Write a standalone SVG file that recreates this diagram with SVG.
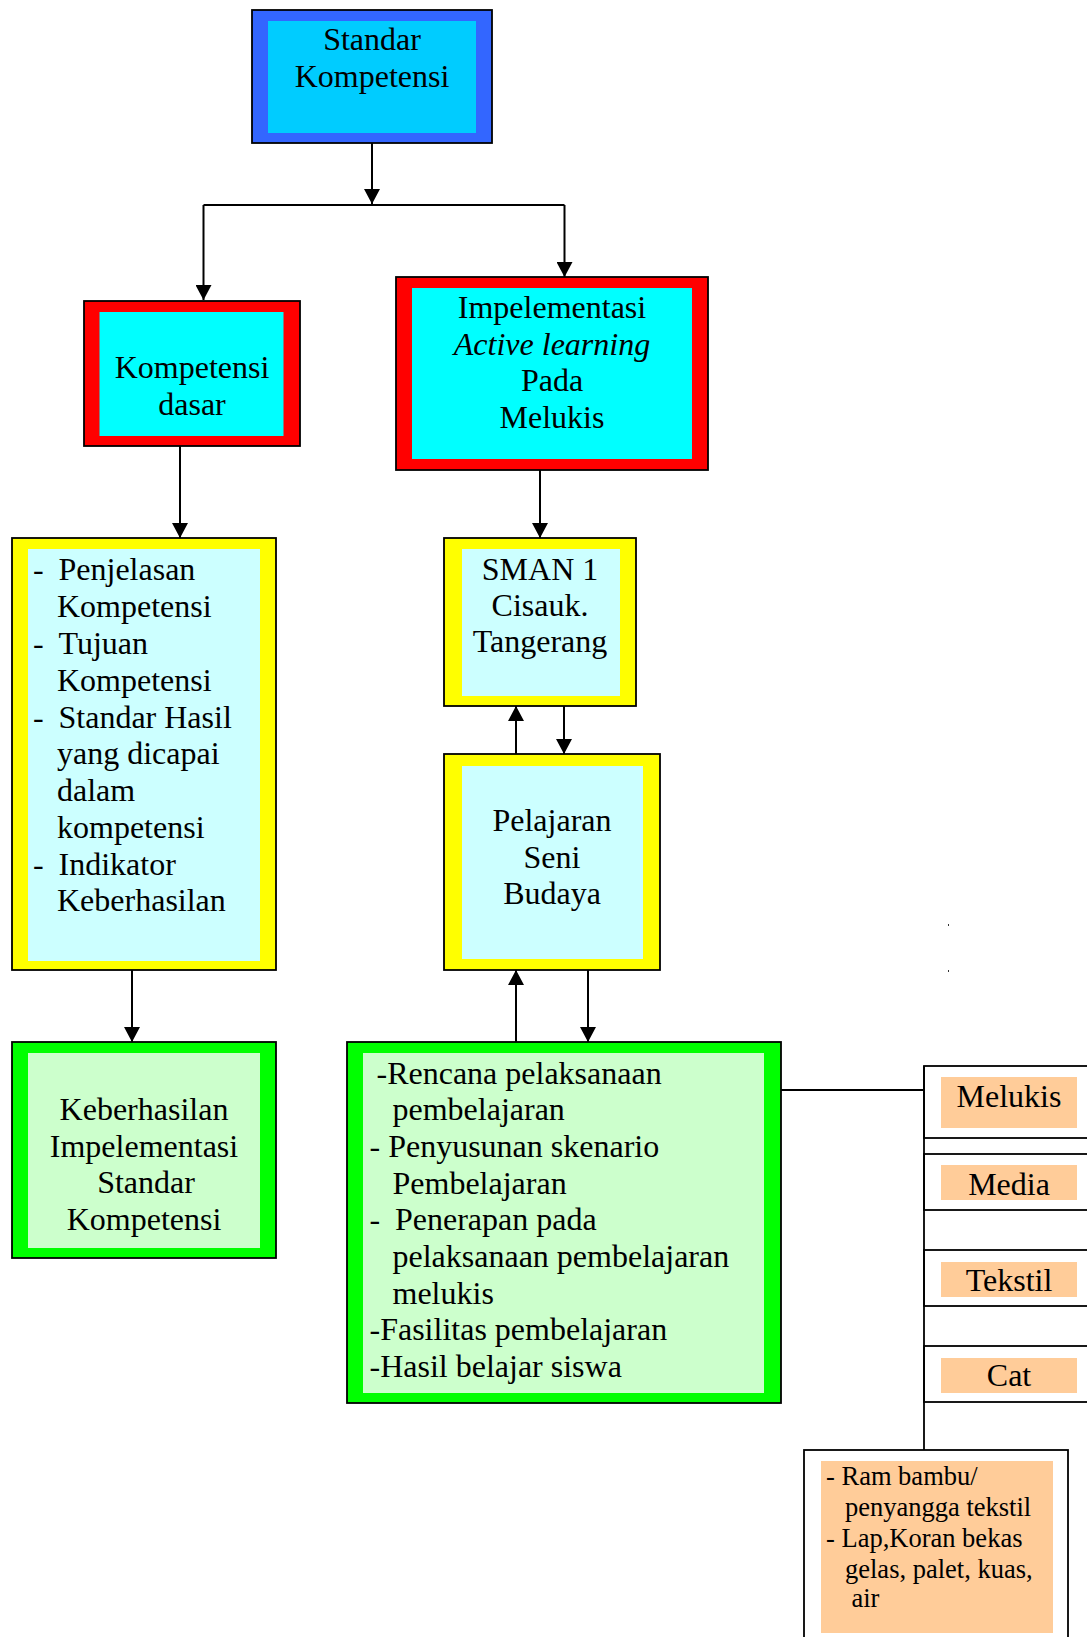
<svg xmlns="http://www.w3.org/2000/svg" width="1087" height="1637" viewBox="0 0 1087 1637">
<defs>
<marker id="arr" markerUnits="userSpaceOnUse" markerWidth="17" markerHeight="16" refX="15" refY="8" orient="auto">
<path d="M0,0 L15,8 L0,16 Z" fill="#000"/>
</marker>
<style>
.o{stroke:#000;stroke-width:1.8}
.t{font-family:"Liberation Serif","Times New Roman",serif;font-size:32px;fill:#000}
.c{text-anchor:middle}
.s{font-family:"Liberation Serif","Times New Roman",serif;font-size:26.5px;fill:#000}
.cn{fill:none;stroke:#000;stroke-width:2}
.ln{fill:none;stroke:#000;stroke-width:1.8}
</style>
</defs>
<rect width="1087" height="1637" fill="#fff"/>

<g id="standar-kompetensi">
<rect class="o" x="252" y="10" width="240" height="133" fill="#3366FF"/>
<rect x="268" y="21" width="208" height="112" fill="#00CCFF"/>
<text class="t c" x="372" y="50">Standar</text>
<text class="t c" x="372" y="87">Kompetensi</text>
</g>

<g id="kompetensi-dasar">
<rect class="o" x="84" y="301" width="216" height="145" fill="#FF0000"/>
<rect x="99.5" y="312" width="184" height="124" fill="#00FFFF"/>
<text class="t c" x="192" y="378">Kompetensi</text>
<text class="t c" x="192" y="415">dasar</text>
</g>

<g id="impelementasi">
<rect class="o" x="396" y="277" width="312" height="193" fill="#FF0000"/>
<rect x="412" y="288" width="280" height="171" fill="#00FFFF"/>
<text class="t c" x="552" y="318">Impelementasi</text>
<text class="t c" x="552" y="354.5" font-style="italic">Active learning</text>
<text class="t c" x="552" y="391">Pada</text>
<text class="t c" x="552" y="427.5">Melukis</text>
</g>

<g id="penjelasan">
<rect class="o" x="12" y="538" width="264" height="432" fill="#FFFF00"/>
<rect x="28" y="549" width="232" height="412" fill="#CCFFFF"/>
<text class="t" x="33" y="580">-</text><text class="t" x="58.5" y="580">Penjelasan</text>
<text class="t" x="57" y="617">Kompetensi</text>
<text class="t" x="33" y="654">-</text><text class="t" x="58.5" y="654">Tujuan</text>
<text class="t" x="57" y="690.5">Kompetensi</text>
<text class="t" x="33" y="727.5">-</text><text class="t" x="58.5" y="727.5">Standar Hasil</text>
<text class="t" x="57" y="764">yang dicapai</text>
<text class="t" x="57" y="801">dalam</text>
<text class="t" x="57" y="838">kompetensi</text>
<text class="t" x="33" y="874.5">-</text><text class="t" x="58.5" y="874.5">Indikator</text>
<text class="t" x="57" y="911">Keberhasilan</text>
</g>

<g id="sman">
<rect class="o" x="444" y="538" width="192" height="168" fill="#FFFF00"/>
<rect x="462" y="549" width="158" height="147" fill="#CCFFFF"/>
<text class="t c" x="540" y="579.5">SMAN 1</text>
<text class="t c" x="540" y="615.5">Cisauk.</text>
<text class="t c" x="540" y="652">Tangerang</text>
</g>

<g id="pelajaran">
<rect class="o" x="444" y="754" width="216" height="216" fill="#FFFF00"/>
<rect x="462" y="766" width="181" height="193" fill="#CCFFFF"/>
<text class="t c" x="552" y="831">Pelajaran</text>
<text class="t c" x="552" y="867.5">Seni</text>
<text class="t c" x="552" y="904">Budaya</text>
</g>

<g id="keberhasilan">
<rect class="o" x="12" y="1042" width="264" height="216" fill="#00FF00"/>
<rect x="28" y="1053" width="232" height="195" fill="#CCFFCC"/>
<text class="t c" x="144" y="1119.5">Keberhasilan</text>
<text class="t c" x="144" y="1156.5">Impelementasi</text>
<text class="t c" x="146" y="1193">Standar</text>
<text class="t c" x="144" y="1230">Kompetensi</text>
</g>

<g id="rencana">
<rect class="o" x="347" y="1042" width="434" height="361" fill="#00FF00"/>
<rect x="363" y="1053" width="401" height="340" fill="#CCFFCC"/>
<text class="t" x="376.5" y="1083.5">-Rencana pelaksanaan</text>
<text class="t" x="392.5" y="1120">pembelajaran</text>
<text class="t" x="369.5" y="1156.5">- Penyusunan skenario</text>
<text class="t" x="392.5" y="1193.5">Pembelajaran</text>
<text class="t" x="369.5" y="1230">-</text><text class="t" x="395" y="1230">Penerapan pada</text>
<text class="t" x="392.5" y="1266.5">pelaksanaan pembelajaran</text>
<text class="t" x="392.5" y="1303.5">melukis</text>
<text class="t" x="369.5" y="1340">-Fasilitas pembelajaran</text>
<text class="t" x="369.5" y="1376.5">-Hasil belajar siswa</text>
</g>

<g id="melukis">
<rect class="o" x="924" y="1066" width="200" height="72" fill="#fff"/>
<rect x="941" y="1077" width="136" height="51" fill="#FFCC99"/>
<text class="t c" x="1009" y="1107">Melukis</text>
</g>
<g id="media">
<rect class="o" x="924" y="1154" width="200" height="56" fill="#fff"/>
<rect x="941" y="1165" width="136" height="35" fill="#FFCC99"/>
<text class="t c" x="1009" y="1195">Media</text>
</g>
<g id="tekstil">
<rect class="o" x="924" y="1250" width="200" height="56" fill="#fff"/>
<rect x="941" y="1262" width="136" height="35" fill="#FFCC99"/>
<text class="t c" x="1009" y="1290.5">Tekstil</text>
</g>
<g id="cat">
<rect class="o" x="924" y="1346" width="200" height="56" fill="#fff"/>
<rect x="941" y="1358" width="136" height="35" fill="#FFCC99"/>
<text class="t c" x="1009" y="1386">Cat</text>
</g>

<g id="alat">
<rect class="o" x="804" y="1450" width="264" height="200" fill="#fff"/>
<rect x="821" y="1461" width="232" height="172" fill="#FFCC99"/>
<text class="s" x="826" y="1485">- Ram bambu/</text>
<text class="s" x="845" y="1516">penyangga tekstil</text>
<text class="s" x="826" y="1546.5">- Lap,Koran bekas</text>
<text class="s" x="845" y="1578">gelas, palet, kuas,</text>
<text class="s" x="851.5" y="1607">air</text>
</g>

<g id="connectors">
<path class="cn" d="M372,143 V204" marker-end="url(#arr)"/>
<path class="cn" d="M203.5,205 H564.5"/>
<path class="cn" d="M203.5,205 V300" marker-end="url(#arr)"/>
<path class="cn" d="M564.5,205 V277" marker-end="url(#arr)"/>
<path class="cn" d="M180,446 V538" marker-end="url(#arr)"/>
<path class="cn" d="M540,470 V538" marker-end="url(#arr)"/>
<path class="cn" d="M516,754 V706" marker-end="url(#arr)"/>
<path class="cn" d="M564,706 V754" marker-end="url(#arr)"/>
<path class="cn" d="M132,970 V1042" marker-end="url(#arr)"/>
<path class="cn" d="M516,1042 V970" marker-end="url(#arr)"/>
<path class="cn" d="M588,970 V1042" marker-end="url(#arr)"/>
<path class="ln" d="M781,1090 H924"/>
<path class="ln" d="M924,1066 V1450"/>
</g>

<rect x="948" y="924" width="1" height="2" fill="#333"/>
<rect x="948" y="970" width="1" height="2" fill="#333"/>
</svg>
